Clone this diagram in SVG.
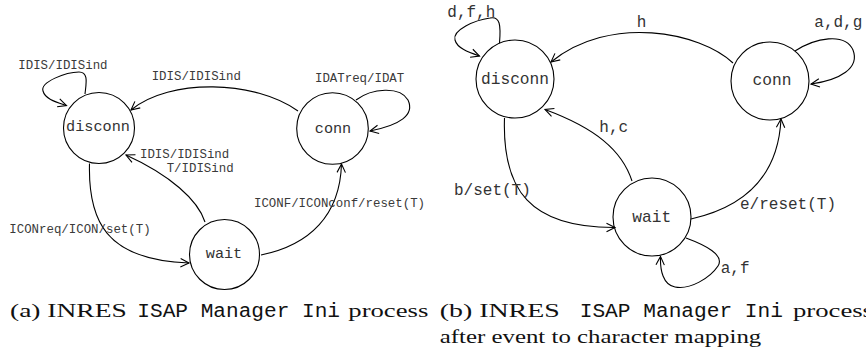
<svg xmlns="http://www.w3.org/2000/svg" width="866" height="357" viewBox="0 0 866 357">
  <style>
    .state { fill: #fff; stroke: #000; stroke-width: 1.1; }
    .edge { fill: none; stroke: #000; stroke-width: 1.1; marker-end: url(#arrow); }
    .name { font-family: "Liberation Mono", "DejaVu Sans Mono", monospace; fill: #333; text-anchor: middle; }
    .nameA { font-size: 15.2px; }
    .nameB { font-size: 16.2px; }
    .lblA { font-family: "Liberation Mono", "DejaVu Sans Mono", monospace; font-size: 12.4px; fill: #3a3a3a; }
    .lblB { font-family: "Liberation Mono", "DejaVu Sans Mono", monospace; font-size: 16px; fill: #333; }
    .cap { font-family: "Liberation Serif", "Times New Roman", serif; font-size: 19.5px; fill: #111; }
    .capTT { font-family: "Liberation Mono", "Courier New", monospace; font-size: 19.5px; fill: #111; }
  </style>
  <defs>
    <marker id="arrow" markerUnits="userSpaceOnUse" markerWidth="12" markerHeight="12" viewBox="-10 -6 12 12" refX="0" refY="0" orient="auto">
      <path d="M-8.5,-4.2 L0,0 L-8.5,4.2" fill="none" stroke="#000" stroke-width="1.1"/>
    </marker>
  </defs>

  <!-- (a) original process -->
  <g id="a-disconn">
    <circle class="state" cx="99" cy="128" r="35.5"/>
    <text class="name nameA" x="98" y="131">disconn</text>
  </g>
  <g id="a-conn">
    <circle class="state" cx="332.5" cy="128.5" r="35.8"/>
    <text class="name nameA" x="333" y="132.5">conn</text>
  </g>
  <g id="a-wait">
    <circle class="state" cx="224.5" cy="254.5" r="35"/>
    <text class="name nameA" x="224" y="258">wait</text>
  </g>

  <g id="a-edges">
    <path class="edge" d="M85,94 C86,84 89,72 79,72 C66,72 40,82 43,91 C45,99 56,102 66.5,105.5"/>
    <path class="edge" d="M298,111 C255,80 170,78 131,110"/>
    <path class="edge" d="M356,100 C372,88 400,86 408,100 C415,115 400,125 370,131"/>
    <path class="edge" d="M205,222 C198,200 170,175 126,155"/>
    <path class="edge" d="M89.5,163.5 C88,220 105,260 189,263"/>
    <path class="edge" d="M261,255 C310,245 340,215 341.5,164"/>
  </g>

  <g id="a-labels">
    <text class="lblA" x="18.3" y="69">IDIS/IDISind</text>
    <text class="lblA" x="151.7" y="80">IDIS/IDISind</text>
    <text class="lblA" x="315" y="81.7">IDATreq/IDAT</text>
    <text class="lblA" x="140" y="158.3">IDIS/IDISind</text>
    <text class="lblA" x="166.7" y="172.3">T/IDISind</text>
    <text class="lblA" x="254" y="207.3">ICONF/ICONconf/reset(T)</text>
    <text class="lblA" x="9.3" y="232.7">ICONreq/ICON/set(T)</text>
  </g>

  <!-- (b) process after event to character mapping -->
  <g id="b-disconn">
    <circle class="state" cx="515" cy="79" r="39"/>
    <text class="name nameB" x="515" y="83.5">disconn</text>
  </g>
  <g id="b-conn">
    <circle class="state" cx="770" cy="81" r="39"/>
    <text class="name nameB" x="772" y="85.3">conn</text>
  </g>
  <g id="b-wait">
    <circle class="state" cx="652" cy="217" r="39"/>
    <text class="name nameB" x="651.7" y="222">wait</text>
  </g>

  <g id="b-edges">
    <path class="edge" d="M499.5,43.2 C501,25 500,16 490,18 C475,20 452,30 455,40 C457,48 468,52 479.5,56"/>
    <path class="edge" d="M733,63 C700,32 610,14 551,62"/>
    <path class="edge" d="M795,51 C815,38 845,32 853,50 C860,68 840,80 811,84"/>
    <path class="edge" d="M504.5,118 C502,190 530,228 615,227.5"/>
    <path class="edge" d="M632,181 C622,150 595,128 545,109.5"/>
    <path class="edge" d="M691,219 C740,208 778,180 781,119"/>
    <path class="edge" d="M686,238 C705,245 725,255 718,266 C710,278 690,290 675,287 C663,285 660,270 660.5,256.5"/>
  </g>

  <g id="b-labels">
    <text class="lblB" x="447.3" y="17.3">d,f,h</text>
    <text class="lblB" x="636.7" y="27.3">h</text>
    <text class="lblB" x="814.3" y="27.3">a,d,g</text>
    <text class="lblB" x="599.3" y="131.7">h,c</text>
    <text class="lblB" x="454" y="195">b/set(T)</text>
    <text class="lblB" x="740" y="209.3">e/reset(T)</text>
    <text class="lblB" x="720.7" y="273.3">a,f</text>
  </g>

  <!-- captions -->
  <g id="captions">
    <text class="cap" x="10" y="316.5" textLength="116.7" lengthAdjust="spacingAndGlyphs">(a) INRES</text>
    <text class="capTT" x="137.3" y="316.5" textLength="202.7" lengthAdjust="spacingAndGlyphs">ISAP Manager Ini</text>
    <text class="cap" x="348.3" y="316.5" textLength="80" lengthAdjust="spacingAndGlyphs">process</text>

    <text class="cap" x="439.7" y="316.5" textLength="120" lengthAdjust="spacingAndGlyphs">(b) INRES</text>
    <text class="capTT" x="579.7" y="316.5" textLength="203.3" lengthAdjust="spacingAndGlyphs">ISAP Manager Ini</text>
    <text class="cap" x="793" y="316.5" textLength="80" lengthAdjust="spacingAndGlyphs">process</text>
    <text class="cap" x="439.7" y="343.3" textLength="321.6" lengthAdjust="spacingAndGlyphs">after event to character mapping</text>
  </g>
</svg>
